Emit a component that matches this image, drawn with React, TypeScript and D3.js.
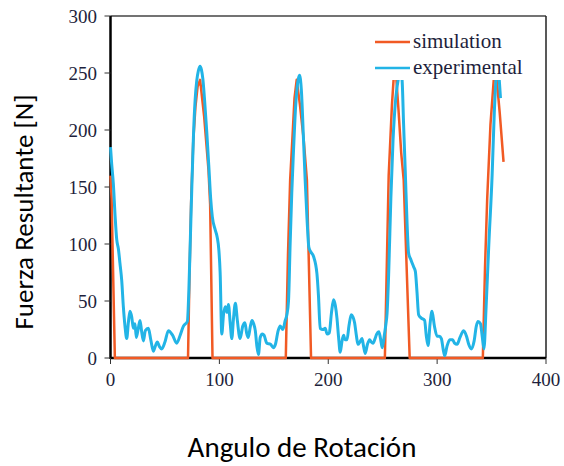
import React from 'react';
import * as d3 from 'd3';

// simulation (orange) - angle / force
const simAngle = [0, 1, 4, 71.2, 72.5, 74, 76, 78, 80, 82.3, 86, 90, 91.5, 93.7,
  161, 163, 165, 167.2, 169, 171, 174, 177.5, 180.4, 184.2,
  252, 255.5, 257, 258.5, 260, 262, 264.5, 267, 269.3, 274.8,
  342, 344, 346, 349, 352, 354, 357.5, 361];
const simForce = [160, 140, 0, 0, 70, 135, 190, 220, 238, 244, 212, 165, 135, 0,
  0, 90, 156, 195, 228, 244, 222, 191, 156, 0,
  0, 160, 191, 222, 244, 252, 218, 180, 156, 0,
  0, 80, 140, 205, 244, 252, 215, 172];

// experimental (blue) - angle / force
const expAngle = [0, 1.1, 2.6, 4.2, 5.7, 7.2, 8.7, 10.3, 11.8, 13.3, 14.9, 16.5, 17.9, 19.5, 21, 22.5, 23.7, 25.5, 27.1, 28.5,
  30.2, 32, 34.8, 37, 39.4, 41, 43, 45, 47, 50, 53.2, 57, 60.8, 64, 67, 70.6,
  72, 73.5, 74.7, 76.2, 77.7, 79.2, 80.7, 82.3, 83.5, 84.8, 86.5, 88.5, 90.5, 92, 93.5, 96, 98, 99.5, 100.7,
  102.2, 103.8, 105.5, 107, 108.3, 110, 111.4, 113, 114.7, 116.5, 119, 121.5, 123.5, 125, 126.5, 128.5, 130, 131.5,
  133, 134.5, 135.9, 137.5, 139.5, 141, 143.6, 147, 149.7, 151.5, 154, 155.9, 158.3, 160.5,
  162, 163.5, 165, 166.5, 168, 170, 172, 173.6, 175.3, 177.3, 178.8, 180.5, 182.2, 184, 186.5, 189.6, 191,
  192.6, 195, 197.2, 199, 200.9, 203, 204.9, 206.5, 208, 209.5, 211, 212.5, 214.1, 215.5, 217.2, 219, 221.1,
  222.7, 224.2, 225.8, 227.3, 229, 231, 232.5, 234, 236, 238, 239.5, 241.1, 243, 244.5, 246.5, 248, 249.6,
  251.5, 253, 254, 255.5, 257.5, 259.5, 262, 264.6, 266.2, 267.8, 269.2, 270.8, 272.4, 273.8, 276, 278.4, 280,
  281.5, 283, 285.5, 288.5, 290, 291.7, 293.5, 295.3, 297.5, 300, 302, 303.9, 305.5, 307, 309, 311.6, 314.3,
  316, 318.3, 321, 324.4, 327, 329, 331.5, 334, 336, 337.6, 339.8, 341.3, 343,
  345, 347.5, 350.5, 352.5, 354.5, 356, 357, 358.2];
const expForce = [185, 170, 153, 125, 104, 96, 83, 68, 45, 28, 17, 32, 41, 36, 26, 30, 18, 26, 33, 24,
  15, 24, 26, 16, 6, 10, 14, 10, 8, 14, 24, 20, 13, 20, 28, 32,
  60, 110, 150, 195, 226, 243, 252, 256, 253, 245, 225, 197, 165, 140, 124, 113, 106, 95, 75,
  21, 38, 45, 40, 47, 30, 17, 35, 48, 33, 17, 28, 31, 22, 18, 28, 33, 30,
  24, 10, 3, 18, 21, 20, 13, 12, 9, 12, 24, 28, 25, 33,
  38, 50, 100, 145, 180, 220, 242, 248, 235, 191, 156, 122, 97, 93, 89, 74, 55,
  26, 25, 26, 21, 22, 40, 51, 46, 35, 18, 5, 14, 20, 16, 16, 28, 38,
  36, 31, 20, 12, 14, 17, 10, 4, 12, 16, 14, 13, 17, 21, 23, 17, 9,
  20, 30, 39, 74, 140, 191, 228, 246, 252, 244, 205, 162, 118, 92, 86, 80, 76,
  58, 38, 35, 33, 20, 11, 30, 41, 28, 19, 19, 17, 8, 2, 10, 16, 16,
  13, 12, 18, 24, 19, 12, 8, 15, 28, 32, 30, 20, 8,
  45, 100, 160, 215, 250, 258, 245, 228];

const xTicks = [0, 100, 200, 300, 400];
const yTicks = [0, 50, 100, 150, 200, 250, 300];
const seriesNames = ['simulation', 'experimental'];
const seriesColors = ['#f15a24', '#22b4e6'];

export default function App() {
  const width = 564;
  const height = 466;

  const x = d3.scaleLinear().domain([0, 400]).range([110.5, 546]);
  const y = d3.scaleLinear().domain([0, 300]).range([358, 16]);

  const simLine = d3.line<number>()
    .x((_, i) => x(simAngle[i]))
    .y((d) => y(d));

  const expLine = d3.line<number>()
    .x((_, i) => x(expAngle[i]))
    .y((d) => y(d))
    .curve(d3.curveMonotoneX);

  const serif = {fontFamily: "'Liberation Serif', serif"};
  const sans = {fontFamily: "Carlito, Lato, sans-serif"};
  const labelColor = '#1e1f3c';

  return (
    <svg width={width} height={height} style={{position: 'absolute', left: 0, top: 0, background: '#fff'}}>
      {/* frame */}
      <line x1={x(0)} x2={x(400)} y1={y(300)} y2={y(300)} stroke="#444" strokeWidth={1.5}/>
      <line x1={x(400)} x2={x(400)} y1={y(300)} y2={y(0)} stroke="#222" strokeWidth={1.5}/>
      <line x1={x(0)} x2={x(0)} y1={y(300)} y2={y(0) + 1} stroke="#000" strokeWidth={2.5}/>
      <line x1={x(0)} x2={x(400)} y1={y(0)} y2={y(0)} stroke="#000" strokeWidth={2.5}/>

      {/* y ticks */}
      {yTicks.map((t) => (
        <g key={'y' + t}>
          <line x1={x(0) - 6} x2={x(0)} y1={y(t)} y2={y(t)} stroke="#333" strokeWidth={1}/>
          <text x={97} y={y(t) + 6.5} textAnchor="end" style={serif} fontSize={19} fill={labelColor}>{t}</text>
        </g>
      ))}

      {/* x ticks */}
      {xTicks.map((t) => (
        <g key={'x' + t}>
          <line x1={x(t)} x2={x(t)} y1={y(0)} y2={y(0) + 6} stroke="#333" strokeWidth={1}/>
          <text x={x(t)} y={386} textAnchor="middle" style={serif} fontSize={19} fill={labelColor}>{t}</text>
        </g>
      ))}

      {/* series */}
      <path d={simLine(simForce) || ''} fill="none" stroke={seriesColors[0]} strokeWidth={2.5} strokeLinejoin="round"/>
      <path d={expLine(expForce) || ''} fill="none" stroke={seriesColors[1]} strokeWidth={3} strokeLinejoin="round"/>

      {/* legend */}
      <rect x={372} y={27} width={165} height={53} fill="#fff"/>
      {seriesNames.map((name, i) => (
        <g key={name}>
          <line x1={375} x2={410} y1={42 + i * 26} y2={42 + i * 26} stroke={seriesColors[i]} strokeWidth={2.5}/>
          <text x={413} y={42 + i * 26 + 6} style={serif} fontSize={21} fill={labelColor}>{name}</text>
        </g>
      ))}

      {/* axis titles */}
      <text transform="translate(33, 212) rotate(-90)" textAnchor="middle" style={sans} fontSize={27} fill="#000">Fuerza Resultante [N]</text>
      <text x={302} y={457} textAnchor="middle" style={sans} fontSize={29} fill="#000">Angulo de Rotación</text>
    </svg>
  );
}
